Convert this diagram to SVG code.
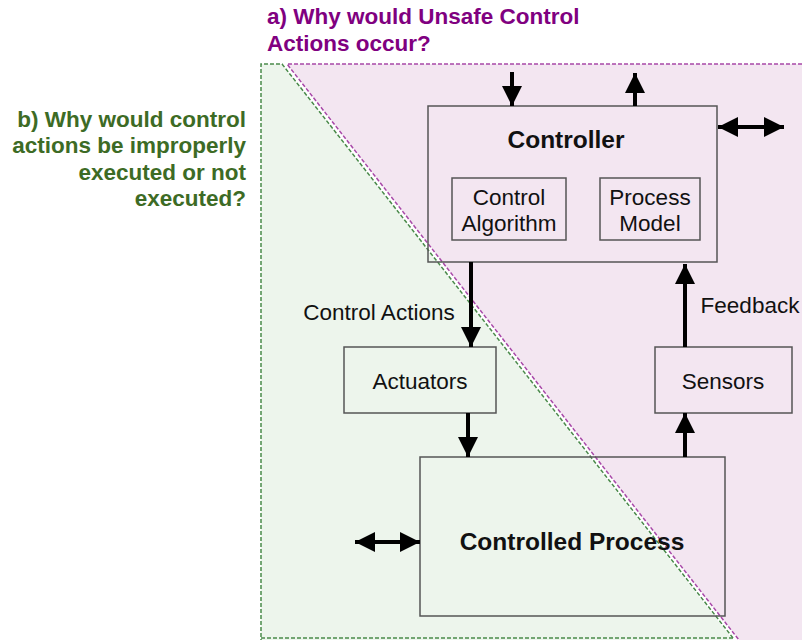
<svg xmlns="http://www.w3.org/2000/svg" width="802" height="640" viewBox="0 0 802 640">
<defs>
<style>
.box{fill:none;stroke:#555;stroke-width:1.5}
.t{font-family:"Liberation Sans",Arial,sans-serif;font-size:22.5px;fill:#111;text-anchor:middle}
.b{font-family:"Liberation Sans",Arial,sans-serif;font-size:24.5px;font-weight:bold;fill:#111;text-anchor:middle}
.q{font-family:"Liberation Sans",Arial,sans-serif;font-size:22.5px;font-weight:bold}
.ar{stroke:#000;stroke-width:4;fill:none}
</style>
<marker id="ah" viewBox="0 0 10 10" refX="10" refY="5" markerWidth="5" markerHeight="5" markerUnits="strokeWidth" orient="auto-start-reverse">
<path d="M0,0 L10,5 L0,10 Z" fill="#000"/>
</marker>
</defs>
<rect width="802" height="640" fill="#fff"/>
<g id="regions">
<polygon points="287,64 802,64 802,640 739,640" fill="#f3e6f1"/>
<polygon points="261,64 282,64 733,640 261,640" fill="#edf5ec"/>
<polyline points="802,64 287,64 739,640" fill="none" stroke="#a848a8" stroke-width="1.5" stroke-dasharray="4,2"/>
<polyline points="733,638 282,64 261,64 261,640" fill="none" stroke="#4a8a4a" stroke-width="1.5" stroke-dasharray="4,2"/>
<line x1="261" y1="638" x2="733" y2="638" stroke="#4a8a4a" stroke-width="1.5" stroke-dasharray="4,2"/>
</g>
<g id="labels">
<text class="q" fill="#800080" x="267" y="24">a) Why would Unsafe Control</text>
<text class="q" fill="#800080" x="267" y="51">Actions occur?</text>
<text class="q" fill="#3d6b25" text-anchor="end" x="246" y="127">b) Why would control</text>
<text class="q" fill="#3d6b25" text-anchor="end" x="246" y="153">actions be improperly</text>
<text class="q" fill="#3d6b25" text-anchor="end" x="246" y="180">executed or not</text>
<text class="q" fill="#3d6b25" text-anchor="end" x="246" y="206">executed?</text>
</g>
<g id="controller">
<rect class="box" x="428" y="106" width="289" height="156"/>
<text class="b" x="566" y="148">Controller</text>
</g>
<g id="control-algorithm">
<rect class="box" x="452" y="178" width="114" height="62"/>
<text class="t" x="509" y="205">Control</text>
<text class="t" x="509" y="231">Algorithm</text>
</g>
<g id="process-model">
<rect class="box" x="600" y="178" width="100" height="62"/>
<text class="t" x="650" y="205">Process</text>
<text class="t" x="650" y="231">Model</text>
</g>
<g id="actuators">
<rect class="box" x="344" y="347" width="152" height="66"/>
<text class="t" x="420" y="389">Actuators</text>
</g>
<g id="sensors">
<rect class="box" x="655" y="347" width="137" height="66"/>
<text class="t" x="723" y="389">Sensors</text>
</g>
<g id="controlled-process">
<rect class="box" x="420" y="457" width="305" height="159"/>
<text class="b" x="572" y="550">Controlled Process</text>
</g>
<g id="connectors">
<line class="ar" x1="512" y1="72" x2="512" y2="106" marker-end="url(#ah)"/>
<line class="ar" x1="635" y1="106" x2="635" y2="73" marker-end="url(#ah)"/>
<line class="ar" x1="718" y1="127" x2="784" y2="127" marker-start="url(#ah)" marker-end="url(#ah)"/>
<line class="ar" x1="471" y1="262" x2="471" y2="347" marker-end="url(#ah)"/>
<line class="ar" x1="468" y1="413" x2="468" y2="457" marker-end="url(#ah)"/>
<line class="ar" x1="685" y1="457" x2="685" y2="413" marker-end="url(#ah)"/>
<line class="ar" x1="685" y1="347" x2="685" y2="264" marker-end="url(#ah)"/>
<line class="ar" x1="355" y1="542" x2="420" y2="542" marker-start="url(#ah)" marker-end="url(#ah)"/>
<text class="t" x="379" y="320">Control Actions</text>
<text class="t" x="750" y="313">Feedback</text>
</g>
</svg>
